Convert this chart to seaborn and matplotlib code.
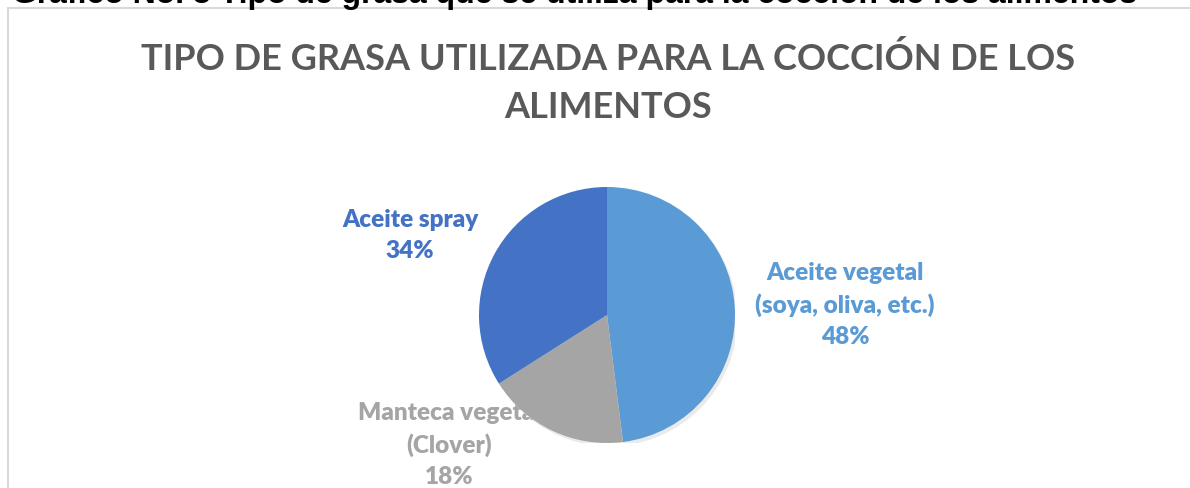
import matplotlib
matplotlib.use("Agg")
import matplotlib.pyplot as plt
from matplotlib.patches import Rectangle, Circle
import seaborn as sns

# Datos
categorias = ["Aceite vegetal\n(soya, oliva, etc.)", "Manteca vegetal\n(Clover)", "Aceite spray"]
porcentajes = [48, 18, 34]
colores = ["#5B9BD5", "#A5A5A5", "#4472C4"]
# posición de cada etiqueta en coordenadas del pie (radio 1)
pos_etiquetas = [(1.859, 0.086), (-1.234, -1.008), (-1.539, 0.625)]

titulo = "TIPO DE GRASA UTILIZADA PARA LA COCCIÓN DE LOS\nALIMENTOS"
encabezado = "Gráfico No. 5 Tipo de grasa que se utiliza para la cocción de los alimentos"

sns.set_theme(style="white")
plt.rcParams['font.family'] = ['Lato', 'DejaVu Sans']

W, H = 1190, 489
fig = plt.figure(figsize=(W / 100, H / 100), dpi=100)
fig.patch.set_facecolor("white")

# Encabezado cortado arriba
fig.text(12 / W, 1 - 3 / H, encabezado, family=['Liberation Sans', 'DejaVu Sans'],
         fontweight='bold', fontsize=23, color='black', ha='left', va='baseline')

# Marco del gráfico
fig.patches.append(Rectangle((8 / W, -0.1), 1.2, (1 - 9 / H) + 0.1, transform=fig.transFigure,
                             fill=False, edgecolor='#D9D9D9', linewidth=1.5))

# Título
fig.text(608 / W, 1 - 83 / H, titulo, fontsize=26, fontweight='bold', color='#595959',
         ha='center', va='center', multialignment='center', linespacing=1.55)

# Pie
cx, cy, r = 607, 316, 128
ax = fig.add_axes([(cx - r) / W, (H - cy - r) / H, 2 * r / W, 2 * r / H])
ax.add_patch(Circle((0.02, -0.025), 1.0, color='#d6d6d6', alpha=0.5, zorder=0.5, lw=0))
wedges, _ = ax.pie(porcentajes, colors=colores, startangle=90, counterclock=False,
                   radius=1, wedgeprops=dict(linewidth=0, zorder=1))
ax.set_xlim(-1, 1)
ax.set_ylim(-1, 1)
ax.set_aspect('equal')
ax.axis('off')

for cat, p, col, (x, y) in zip(categorias, porcentajes, colores, pos_etiquetas):
    ax.text(x, y, f"{cat}\n{p}%", color=col, fontsize=17.5, fontweight='heavy',
            ha='center', va='center', multialignment='center', linespacing=1.5,
            zorder=0.2, clip_on=False)

fig.savefig("out.png", dpi=100)
